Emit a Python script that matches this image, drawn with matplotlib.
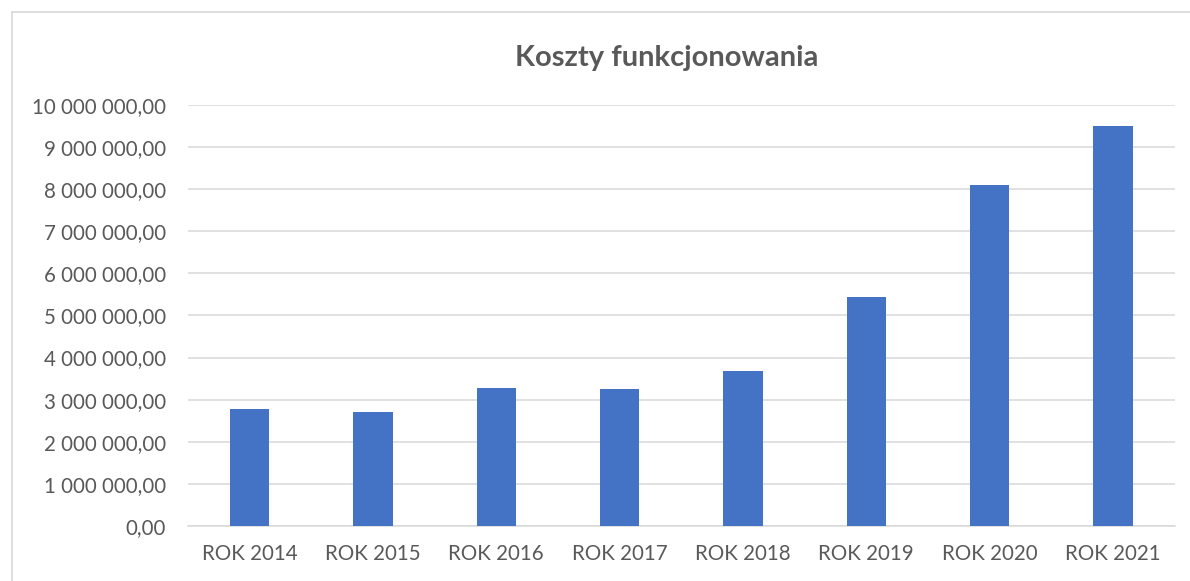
import matplotlib
matplotlib.use("Agg")
import matplotlib.pyplot as plt
from matplotlib.ticker import FuncFormatter, MultipleLocator
from matplotlib.lines import Line2D

years = ["ROK 2014", "ROK 2015", "ROK 2016", "ROK 2017",
         "ROK 2018", "ROK 2019", "ROK 2020", "ROK 2021"]
costs = [2780000, 2710000, 3280000, 3250000,
         3680000, 5440000, 8100000, 9500000]

plt.rcParams['font.family'] = ['Lato', 'DejaVu Sans']
text_color = '#595959'
grid_color = '#d9d9d9'

fig = plt.figure(figsize=(11.9, 5.81), dpi=100)
ax = fig.add_axes([0.158, 0.0947, 0.829, 0.7246])

x = range(len(years))
ax.bar(x, costs, width=0.32, color='#4472C4', zorder=3)

ax.set_xlim(-0.5, len(years) - 0.5)
ax.set_ylim(0, 10000000)
ax.yaxis.set_major_locator(MultipleLocator(1000000))

def pl_fmt(v, pos):
    return f"{v:,.2f}".replace(",", " ").replace(".", ",")

ax.yaxis.set_major_formatter(FuncFormatter(pl_fmt))
ax.set_xticks(list(x))
ax.set_xticklabels(years)

ax.grid(axis='y', color=grid_color, linewidth=1.1, zorder=0)
for s in ['top', 'right', 'left']:
    ax.spines[s].set_visible(False)
ax.spines['bottom'].set_color(grid_color)
ax.spines['bottom'].set_linewidth(1.1)
ax.tick_params(axis='both', length=0, labelsize=14.8, labelcolor=text_color)
ax.tick_params(axis='y', pad=16)
ax.tick_params(axis='x', pad=13)

fig.text(0.5605, 0.9, "Koszty funkcjonowania", ha='center', va='center',
         fontsize=21, fontweight='bold', color=text_color)

# chart frame (top and left edges visible)
fig.add_artist(Line2D([12 / 1190, 1.0], [1 - 12 / 581, 1 - 12 / 581],
                      color=grid_color, linewidth=1.2, transform=fig.transFigure))
fig.add_artist(Line2D([12 / 1190, 12 / 1190], [0, 1 - 12 / 581],
                      color=grid_color, linewidth=1.2, transform=fig.transFigure))

fig.savefig("out.png", dpi=100)
